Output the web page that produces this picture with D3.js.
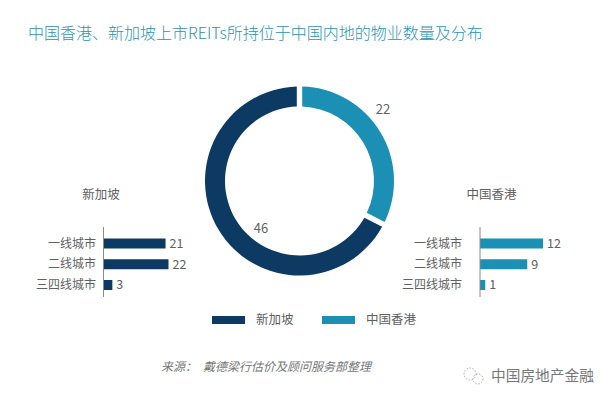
<!DOCTYPE html>
<html><head><meta charset="utf-8">
<script src="https://cdn.jsdelivr.net/npm/d3@7"></script>
<style>
html,body{margin:0;padding:0;background:#fff;}
text{font-family:"Noto Sans CJK SC","Lato",sans-serif;}
</style></head>
<body><svg id="c" width="615" height="403"></svg>
<script>
const title = "中国香港、新加坡上市REITs所持位于中国内地的物业数量及分布";
const totalNames = ["中国香港", "新加坡"];
const totalValues = [22, 46];
const categories = ["一线城市", "二线城市", "三四线城市"];
const sgValues = [21, 22, 3];
const hkValues = [12, 9, 1];
const legendNames = ["新加坡", "中国香港"];
const source = "来源：", sourceText = "戴德梁行估价及顾问服务部整理";
const watermark = "中国房地产金融";

const navy = "#0c3a63", teal = "#1b8fb4", gray = "#606060";
const svg = d3.select("#c");

svg.append("text").attr("x", 28).attr("y", 39).attr("fill", "#2a93b2")
  .attr("font-size", 16).attr("font-weight", 300).text(title);

// donut
const cx = 299.5, cy = 181;
const pie = d3.pie().sort(null).padAngle(0.045);
const arcs = pie(totalValues);
const arc = d3.arc().innerRadius(74.5).outerRadius(94.5);
const g = svg.append("g").attr("transform", `translate(${cx},${cy})`);
g.selectAll("path").data(arcs).join("path").attr("d", arc)
  .attr("fill", (d, i) => i === 0 ? teal : navy);
const labelR = [110, 61];
g.selectAll("text").data(arcs).join("text")
  .attr("x", (d, i) => { const a = d.startAngle + 0.42 * (d.endAngle - d.startAngle); return Math.sin(a) * labelR[i]; })
  .attr("y", (d, i) => { const a = d.startAngle + 0.42 * (d.endAngle - d.startAngle); return -Math.cos(a) * labelR[i]; })
  .attr("text-anchor", "middle").attr("dy", "0.35em")
  .attr("font-family", "Lato, sans-serif").attr("font-size", 13).attr("fill", gray)
  .text(d => d.data);

// bar panels
function panel(values, color, axisX, maxLen, labelRight, titleX, titleText) {
  const x = d3.scaleLinear().domain([0, d3.max(values)]).range([0, maxLen]);
  const y = d3.scaleBand().domain(categories).range([233, 295.5]).paddingInner(0.518).paddingOuter(0.265);
  const p = svg.append("g");
  p.append("text").attr("x", titleX).attr("y", 195).attr("dy", "0.35em")
    .attr("font-size", 12.5).attr("fill", gray).attr("text-anchor", "middle").text(titleText);
  p.selectAll("rect").data(values).join("rect")
    .attr("x", axisX).attr("y", (d, i) => y(categories[i]))
    .attr("width", d => x(d)).attr("height", y.bandwidth()).attr("fill", color);
  p.append("line").attr("x1", axisX).attr("x2", axisX).attr("y1", 227).attr("y2", 297)
    .attr("stroke", "#8a8a8a").attr("stroke-width", 1);
  p.selectAll("text.cat").data(categories).join("text").attr("class", "cat")
    .attr("x", labelRight).attr("y", d => y(d) + y.bandwidth() / 2).attr("dy", "0.35em")
    .attr("text-anchor", "end").attr("font-size", 12).attr("fill", gray).text(d => d);
  p.selectAll("text.val").data(values).join("text").attr("class", "val")
    .attr("x", d => axisX + x(d) + 4).attr("y", (d, i) => y(categories[i]) + y.bandwidth() / 2).attr("dy", "0.35em")
    .attr("font-family", "Lato, sans-serif").attr("font-size", 12.5).attr("fill", gray).text(d => d);
}
panel(sgValues, navy, 103.5, 65, 96, 101, "新加坡");
panel(hkValues, teal, 480, 63, 462, 491.5, "中国香港");

// legend
const lg = svg.append("g");
const legX = [212, 322];
legendNames.forEach((n, i) => {
  lg.append("rect").attr("x", legX[i]).attr("y", 316).attr("width", 33).attr("height", 8)
    .attr("fill", i === 0 ? navy : teal);
  lg.append("text").attr("x", legX[i] + 44).attr("y", 320).attr("dy", "0.35em")
    .attr("font-size", 12.5).attr("fill", gray).text(n);
});

// source
svg.append("text").attr("x", 161).attr("y", 371).attr("font-size", 12).attr("font-style", "italic")
  .attr("fill", "#777").text(source);
svg.append("text").attr("x", 203).attr("y", 371).attr("font-size", 12).attr("font-style", "italic")
  .attr("fill", "#777").text(sourceText);

// watermark
const wm = svg.append("g").attr("fill", "none").attr("stroke", "#999").attr("stroke-width", 0.8).attr("stroke-dasharray", "1.5,1.5");
wm.append("circle").attr("cx", 470).attr("cy", 374).attr("r", 6);
wm.append("circle").attr("cx", 478).attr("cy", 379).attr("r", 5);
svg.append("text").attr("x", 491).attr("y", 376).attr("dy", "0.35em").attr("font-size", 14.7)
  .attr("fill", "#777").text(watermark);
</script></body></html>
